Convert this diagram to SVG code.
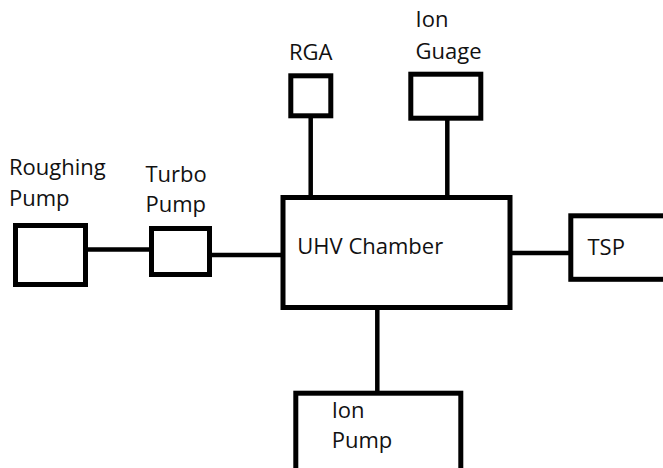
<svg xmlns="http://www.w3.org/2000/svg" width="663" height="468" viewBox="0 0 663 468">
<style>
.box{fill:#fff;stroke:#000;stroke-width:5}
.ln{stroke:#000;stroke-width:4.5;fill:none}
text{font-family:"Open Sans","Liberation Sans",sans-serif;font-size:22px;fill:#111}
</style>
<rect width="663" height="468" fill="#fff"/>
<g id="connectors">
<line class="ln" x1="88" y1="249.5" x2="151" y2="249.5"/>
<line class="ln" x1="210" y1="255" x2="283" y2="255"/>
<line class="ln" x1="310.7" y1="116" x2="310.7" y2="198"/>
<line class="ln" x1="447.3" y1="118" x2="447.3" y2="198"/>
<line class="ln" x1="510" y1="253" x2="571" y2="253"/>
<line class="ln" x1="377.3" y1="307" x2="377.3" y2="394"/>
</g>
<g id="roughing-pump">
<rect class="box" x="15.5" y="225.5" width="70" height="59"/>
<text x="9" y="175">Roughing</text>
<text x="9" y="205.7">Pump</text>
</g>
<g id="turbo-pump">
<rect class="box" x="151.5" y="228.5" width="58" height="46"/>
<text x="145.5" y="182.3">Turbo</text>
<text x="145.5" y="212.3">Pump</text>
</g>
<g id="rga">
<rect class="box" x="290.8" y="75.8" width="40" height="40"/>
<text x="289" y="60">RGA</text>
</g>
<g id="ion-guage">
<rect class="box" x="410.8" y="74.2" width="70" height="44"/>
<text x="415.5" y="27.3">Ion</text>
<text x="415.5" y="59.3">Guage</text>
</g>
<g id="uhv-chamber">
<rect class="box" x="283" y="197.5" width="227" height="110"/>
<text x="297.3" y="254">UHV Chamber</text>
</g>
<g id="tsp">
<rect class="box" x="570.8" y="215.8" width="100" height="63.5"/>
<text x="587.5" y="255">TSP</text>
</g>
<g id="ion-pump">
<rect class="box" x="295.8" y="393.2" width="165" height="100"/>
<text x="331.7" y="418">Ion</text>
<text x="331.7" y="447.5">Pump</text>
</g>
</svg>
